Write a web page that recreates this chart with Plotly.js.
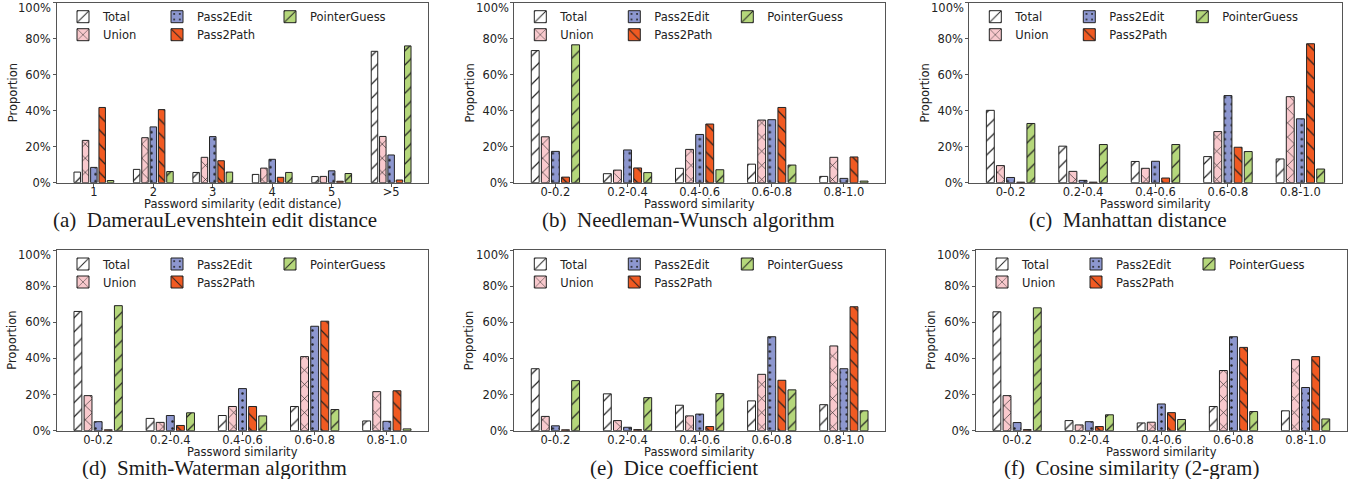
<!DOCTYPE html>
<html>
<head>
<meta charset="utf-8">
<script src="https://cdn.plot.ly/plotly-3.0.1.min.js"></script>
<style>html,body{margin:0;padding:0;background:#fff;}#chart{width:1360px;height:479px;}</style>
</head>
<body>
<div id="chart"></div>
<script>
// ---- categories / labels ----
const editCategories = ['1', '2', '3', '4', '5', '>5'];
const simCategories = ['0-0.2', '0.2-0.4', '0.4-0.6', '0.6-0.8', '0.8-1.0'];
const seriesNames = ['Total', 'Union', 'Pass2Edit', 'Pass2Path', 'PointerGuess'];
const yTickVals = [0, 20, 40, 60, 80, 100];
const yTickText = ['0%', '20%', '40%', '60%', '80%', ''];
const yTopLabel = '100%';

// ---- (a) Damerau-Levenshtein edit distance (%) ----
const dlTotal = [5.9, 7.4, 5.7, 4.6, 3.4, 73.0];
const dlUnion = [23.5, 25.0, 14.1, 8.1, 3.5, 25.7];
const dlPass2Edit = [8.5, 31.0, 25.6, 13.0, 6.6, 15.4];
const dlPass2Path = [41.8, 40.6, 12.2, 3.0, 0.8, 1.5];
const dlPointerGuess = [1.2, 6.2, 5.9, 5.7, 5.1, 76.0];

// ---- (b) Needleman-Wunsch ----
const nwTotal = [73.4, 5.0, 8.0, 10.3, 3.5];
const nwUnion = [25.5, 7.0, 18.5, 34.8, 14.1];
const nwPass2Edit = [17.4, 18.2, 26.8, 35.0, 2.4];
const nwPass2Path = [3.1, 8.2, 32.6, 41.8, 14.3];
const nwPointerGuess = [76.6, 5.6, 7.2, 9.8, 0.9];

// ---- (c) Manhattan distance ----
const mhTotal = [40.2, 20.3, 11.8, 14.5, 13.2];
const mhUnion = [9.5, 6.3, 8.0, 28.4, 47.8];
const mhPass2Edit = [2.9, 1.3, 11.9, 48.4, 35.5];
const mhPass2Path = [0.3, 0.3, 2.6, 19.7, 77.2];
const mhPointerGuess = [32.9, 21.2, 21.2, 17.3, 7.6];

// ---- (d) Smith-Waterman ----
const swTotal = [66.0, 6.8, 8.4, 13.4, 5.4];
const swUnion = [19.4, 4.6, 13.4, 41.0, 21.6];
const swPass2Edit = [5.0, 8.4, 23.3, 57.8, 5.2];
const swPass2Path = [0.5, 2.9, 13.4, 60.6, 22.1];
const swPointerGuess = [69.2, 9.9, 8.2, 11.7, 1.0];

// ---- (e) Dice coefficient ----
const dcTotal = [34.3, 20.4, 14.1, 16.5, 14.4];
const dcUnion = [7.9, 5.6, 8.2, 31.2, 46.9];
const dcPass2Edit = [2.7, 1.9, 9.2, 52.0, 34.3];
const dcPass2Path = [0.5, 0.6, 2.3, 27.9, 68.6];
const dcPointerGuess = [27.7, 18.3, 20.5, 22.6, 11.0];

// ---- (f) Cosine similarity (2-gram) ----
const csTotal = [65.8, 5.6, 4.3, 13.4, 11.0];
const csUnion = [19.4, 3.2, 4.7, 33.3, 39.3];
const csPass2Edit = [4.5, 5.0, 14.8, 52.0, 23.9];
const csPass2Path = [0.6, 2.3, 10.0, 46.1, 41.0];
const csPointerGuess = [68.0, 8.8, 6.2, 10.6, 6.5];

const xTitles = ['Password similarity (edit distance)', 'Password similarity', 'Password similarity',
                 'Password similarity', 'Password similarity', 'Password similarity'];
const captions = ['(a)\u00a0 DamerauLevenshtein edit distance', '(b)\u00a0 Needleman-Wunsch algorithm',
                  '(c)\u00a0 Manhattan distance', '(d)\u00a0 Smith-Waterman algorithm',
                  '(e)\u00a0 Dice coefficient', '(f)\u00a0 Cosine similarity (2-gram)'];

const panels = [
  {cats: editCategories, vals: [dlTotal, dlUnion, dlPass2Edit, dlPass2Path, dlPointerGuess]},
  {cats: simCategories, vals: [nwTotal, nwUnion, nwPass2Edit, nwPass2Path, nwPointerGuess]},
  {cats: simCategories, vals: [mhTotal, mhUnion, mhPass2Edit, mhPass2Path, mhPointerGuess]},
  {cats: simCategories, vals: [swTotal, swUnion, swPass2Edit, swPass2Path, swPointerGuess]},
  {cats: simCategories, vals: [dcTotal, dcUnion, dcPass2Edit, dcPass2Path, dcPointerGuess]},
  {cats: simCategories, vals: [csTotal, csUnion, csPass2Edit, csPass2Path, csPointerGuess]}
];

// ---- styling ----
const W = 1360, H = 479;
const styles = [
  {color: '#ffffff', shape: '/', size: 10, solidity: 0.12},
  {color: '#f9c9cd', shape: 'x', size: 10, solidity: 0.12},
  {color: '#8d97cf', shape: '.', size: 7, solidity: 0.1},
  {color: '#f15a22', shape: '\\', size: 10, solidity: 0.12},
  {color: '#b5d77b', shape: '/', size: 10, solidity: 0.12}
];
const legendRow = [0, 1, 0, 1, 0];
const legendWidths = [49, 49, 68, 68, 90];

// pixel geometry of each panel: [left, right, top, bottom]
const boxes = [
  [57, 428, 2.7, 182.7], [514.3, 885, 2.7, 182.7], [969.3, 1341.7, 2.7, 182.7],
  [57, 428, 250, 430.7], [514.3, 885, 250, 430.7], [976, 1346.7, 250, 430.7]
];
const captionX = [214.5, 688, 1127.5, 214, 674, 1131];

const FONT = 'DejaVu Sans';
const fx = p => p / W;
const fy = p => 1 - p / H;

const traces = [];
const layout = {
  width: W, height: H,
  margin: {l: 0, r: 0, t: 0, b: 0},
  paper_bgcolor: '#ffffff', plot_bgcolor: '#ffffff',
  barmode: 'group', bargap: 0.3, bargroupgap: 0.22,
  font: {family: FONT, size: 11.5, color: '#222'},
  showlegend: true,
  annotations: []
};

panels.forEach((p, k) => {
  const sfx = k === 0 ? '' : String(k + 1);
  const [l, r, t, b] = boxes[k];
  const n = p.cats.length;
  const pad = n === 6 ? 0.62 : 0.57;
  layout['xaxis' + sfx] = {
    domain: [fx(l), fx(r)], anchor: 'y' + sfx, type: 'category',
    range: [-pad, n - 1 + pad],
    showline: true, mirror: true, linecolor: '#555', linewidth: 1,
    ticks: 'outside', ticklen: 3, tickwidth: 1, tickcolor: '#555',
    showgrid: false, zeroline: false, fixedrange: true,
    tickfont: {family: FONT, size: 11.5, color: '#222'}, ticklabelstandoff: -5
  };
  layout['yaxis' + sfx] = {
    domain: [fy(b), fy(t)], anchor: 'x' + sfx, range: [0, 100],
    tickmode: 'array', tickvals: yTickVals, ticktext: yTickText,
    showline: true, mirror: true, linecolor: '#555', linewidth: 1,
    ticks: 'outside', ticklen: 3, tickwidth: 1, tickcolor: '#555',
    showgrid: false, zeroline: false, fixedrange: true,
    tickfont: {family: FONT, size: 11.5, color: '#222'}
  };
  const legA = 'legend' + (k === 0 ? '' : String(2 * k + 1));
  const legB = 'legend' + String(2 * k + 2);
  [legA, legB].forEach((lg, ri) => {
    layout[lg] = {
      orientation: 'h', x: fx(l + 6), y: fy(t - 0.5 + ri * 18), xanchor: 'left', yanchor: 'top',
      bgcolor: 'rgba(0,0,0,0)', borderwidth: 0, itemwidth: 30,
      font: {family: FONT, size: 11.5, color: '#222'}, traceorder: 'normal'
    };
  });
  seriesNames.forEach((name, i) => {
    const s = styles[i];
    traces.push({
      type: 'bar', name: name, x: p.cats, y: p.vals[i],
      xaxis: 'x' + sfx, yaxis: 'y' + sfx,
      legend: legendRow[i] === 0 ? legA : legB,
      legendwidth: legendWidths[i],
      marker: {
        color: s.color,
        line: {color: '#222', width: 1},
        pattern: {shape: s.shape, size: s.size, solidity: s.solidity, fgcolor: '#222', bgcolor: s.color, fillmode: 'replace'}
      },
      hoverinfo: 'skip'
    });
  });
  // top y tick label (sits slightly below the frame corner, as in the reference)
  layout.annotations.push({
    xref: 'paper', yref: 'paper', x: fx(l - 3.7), y: fy(t + 5.3), xanchor: 'right', yanchor: 'middle',
    text: yTopLabel, showarrow: false, font: {family: FONT, size: 11.5, color: '#222'}
  });
  // axis titles
  layout.annotations.push({
    xref: 'paper', yref: 'paper', x: fx((l + r) / 2), y: fy(b + 21.5), xanchor: 'center', yanchor: 'middle',
    text: xTitles[k], showarrow: false, borderpad: 0, font: {family: FONT, size: 11.5, color: '#222'}
  });
  layout.annotations.push({
    xref: 'paper', yref: 'paper', x: fx(l - 44.5), y: fy((t + b) / 2), xanchor: 'center', yanchor: 'middle',
    text: 'Proportion', textangle: -90, showarrow: false, font: {family: FONT, size: 11.5, color: '#222'}
  });
  layout.annotations.push({
    xref: 'paper', yref: 'paper', x: fx(captionX[k]), y: fy(b + 37), xanchor: 'center', yanchor: 'middle',
    text: captions[k], showarrow: false, borderpad: 0, font: {family: 'Liberation Serif', size: 21, color: '#1a1a1a'}
  });
});

Plotly.newPlot('chart', traces, layout, {staticPlot: true, displayModeBar: false});
</script>
</body>
</html>
